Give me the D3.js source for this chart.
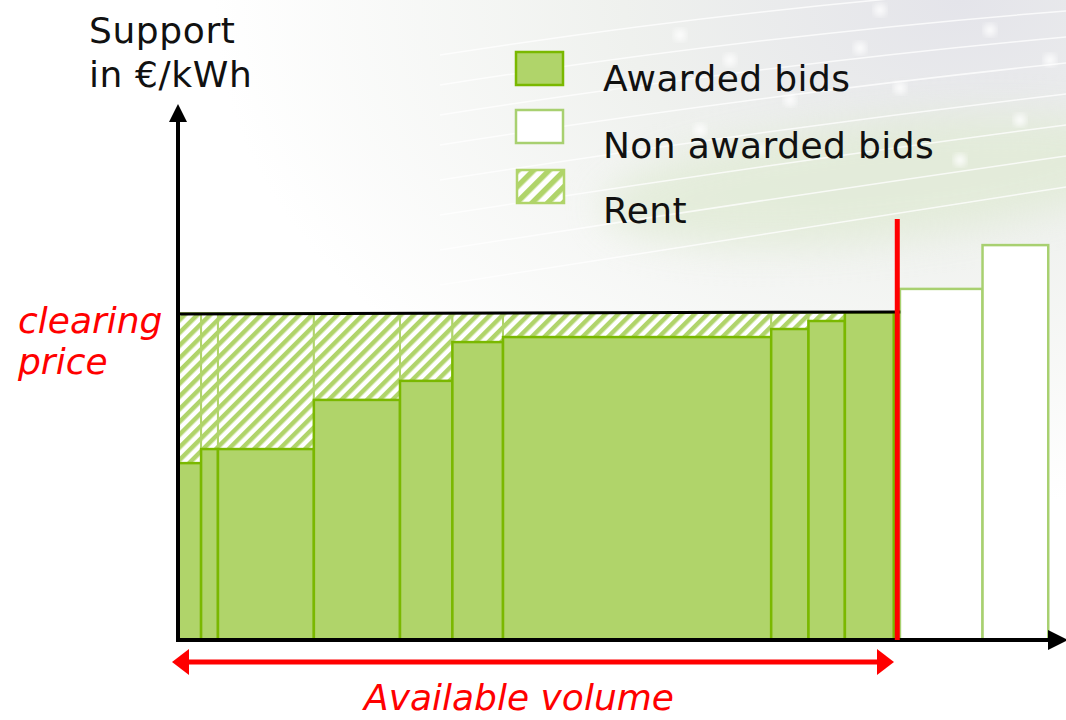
<!DOCTYPE html>
<html>
<head>
<meta charset="utf-8">
<script src="https://cdn.jsdelivr.net/npm/d3@7"></script>
<style>
  body { margin: 0; background: #fff; }
  svg { display: block; }
  text { font-family: "DejaVu Sans", Verdana, sans-serif; }
</style>
</head>
<body>
<div id="chart"></div>
<script>
// bid volumes (arbitrary units) and bid prices
var awardedVolumes = [2.6, 1.9, 10.8, 9.7, 5.9, 5.7, 30.2, 4.2, 4.1, 5.5];
var awardedPrices  = [5.29, 5.71, 5.71, 7.18, 7.75, 8.91, 9.06, 9.30, 9.54, 9.80];
var nonAwardedStart = 81.3;
var nonAwardedVolumes = [9.3, 7.4];
var nonAwardedPrices  = [10.5, 11.81];
var clearingPrice = 9.78;
var availableVolume = 81.0;
var legendLabels = ["Awarded bids", "Non awarded bids", "Rent"];

const width = 1066, height = 720;
const x0 = 178, y0 = 640;
const fontSize = 36;

const svg = d3.select("#chart").append("svg")
    .attr("width", width).attr("height", height);

const defs = svg.append("defs");

// background: grey glow top right with a greenish band
const grad = defs.append("radialGradient").attr("id", "bg")
    .attr("cx", "0.9").attr("cy", "0.0").attr("r", "0.7");
grad.append("stop").attr("offset", "0").attr("stop-color", "#e4e4ea");
grad.append("stop").attr("offset", "0.45").attr("stop-color", "#eff1ee");
grad.append("stop").attr("offset", "1").attr("stop-color", "#ffffff");
svg.append("rect").attr("width", width).attr("height", height).attr("fill", "url(#bg)");

const blur = defs.append("filter").attr("id", "soft").attr("x", "-50%").attr("y", "-50%").attr("width", "200%").attr("height", "200%");
blur.append("feGaussianBlur").attr("stdDeviation", 18);
svg.append("ellipse").attr("cx", 880).attr("cy", 180).attr("rx", 280).attr("ry", 60)
    .attr("transform", "rotate(-6 880 180)")
    .attr("fill", "#e1ebd6").attr("opacity", 0.8).attr("filter", "url(#soft)");

// white swooshes
const swooshes = [15, 45, 75, 105, 140, 175, 210, 245];
swooshes.forEach(function(s, i) {
  svg.append("path")
    .attr("d", "M 440 " + (s + 40) + " Q 760 " + (s - 10) + " 1066 " + (s - 30 - i * 4))
    .attr("fill", "none").attr("stroke", "#ffffff").attr("stroke-opacity", 0.75).attr("stroke-width", 1.5);
});
const sparkleGlow = defs.append("filter").attr("id", "spark");
sparkleGlow.append("feGaussianBlur").attr("stdDeviation", 3);
[[680, 35], [730, 60], [860, 48], [990, 30], [790, 100], [900, 88], [1020, 120], [700, 130], [960, 160], [1050, 60], [880, 10], [760, 150]]
  .forEach(function(p) {
    svg.append("circle").attr("cx", p[0]).attr("cy", p[1]).attr("r", 6)
      .attr("fill", "#fff").attr("opacity", 0.85).attr("filter", "url(#spark)");
  });

// hatch patterns
function makeHatch(id, size) {
  const p = defs.append("pattern").attr("id", id)
      .attr("patternUnits", "userSpaceOnUse")
      .attr("width", size).attr("height", size)
      .attr("patternTransform", "rotate(45)");
  p.append("rect").attr("width", size).attr("height", size).attr("fill", "#fff");
  p.append("rect").attr("width", size / 2).attr("height", size).attr("fill", "#b0d46a");
}
makeHatch("hatch", 9);
makeHatch("hatchLegend", 11);

const xScale = d3.scaleLinear().domain([0, 100]).range([x0, x0 + 888]);
const yScale = d3.scaleLinear().domain([0, 16]).range([y0, 105]);

// build bid tables
let acc = 0;
const awarded = awardedVolumes.map(function(v, i) {
  const d = { start: acc, end: acc + v, price: awardedPrices[i] };
  acc += v;
  return d;
});
acc = nonAwardedStart;
const nonAwarded = nonAwardedVolumes.map(function(v, i) {
  const d = { start: acc, end: acc + v, price: nonAwardedPrices[i] };
  acc += v;
  return d;
});

// rent areas
svg.append("g").selectAll("rect").data(awarded).join("rect")
    .attr("x", d => xScale(d.start))
    .attr("y", yScale(clearingPrice))
    .attr("width", d => xScale(d.end) - xScale(d.start))
    .attr("height", d => Math.max(0, yScale(d.price) - yScale(clearingPrice)))
    .attr("fill", "url(#hatch)")
    .attr("stroke", "#b0d46a").attr("stroke-width", 2);

// awarded bids
svg.append("g").selectAll("rect").data(awarded).join("rect")
    .attr("x", d => xScale(d.start))
    .attr("y", d => yScale(d.price))
    .attr("width", d => xScale(d.end) - xScale(d.start))
    .attr("height", d => y0 - yScale(d.price))
    .attr("fill", "#b0d46a")
    .attr("stroke", "#7ab800").attr("stroke-width", 2.5);

// non awarded bids
svg.append("g").selectAll("rect").data(nonAwarded).join("rect")
    .attr("x", d => xScale(d.start))
    .attr("y", d => yScale(d.price))
    .attr("width", d => xScale(d.end) - xScale(d.start))
    .attr("height", d => y0 - yScale(d.price))
    .attr("fill", "#fff")
    .attr("stroke", "#a8d070").attr("stroke-width", 2.5);

// clearing price line
svg.append("line")
    .attr("x1", x0).attr("x2", xScale(availableVolume) + 3)
    .attr("y1", yScale(clearingPrice) + 1).attr("y2", yScale(clearingPrice) - 1)
    .attr("stroke", "#000").attr("stroke-width", 3);

// axes with arrow heads
svg.append("line").attr("x1", x0).attr("x2", x0).attr("y1", y0 + 2).attr("y2", 118)
    .attr("stroke", "#000").attr("stroke-width", 4);
svg.append("path").attr("d", `M ${x0 - 9} 122 L ${x0} 104 L ${x0 + 9} 122 Z`).attr("fill", "#000");
svg.append("line").attr("x1", x0 - 2).attr("x2", 1052).attr("y1", y0).attr("y2", y0)
    .attr("stroke", "#000").attr("stroke-width", 4);
svg.append("path").attr("d", `M 1048 ${y0 - 10} L 1068 ${y0} L 1048 ${y0 + 10} Z`).attr("fill", "#000");

// available volume cut
svg.append("line")
    .attr("x1", xScale(availableVolume)).attr("x2", xScale(availableVolume))
    .attr("y1", 219).attr("y2", y0)
    .attr("stroke", "#ff0000").attr("stroke-width", 5);

// available volume arrow
const ay = 662, ax1 = 172, ax2 = 894;
svg.append("line").attr("x1", ax1 + 12).attr("x2", ax2 - 12).attr("y1", ay).attr("y2", ay)
    .attr("stroke", "#ff0000").attr("stroke-width", 5);
svg.append("path").attr("d", `M ${ax1} ${ay} L ${ax1 + 17} ${ay - 13} L ${ax1 + 17} ${ay + 13} Z`).attr("fill", "#ff0000");
svg.append("path").attr("d", `M ${ax2} ${ay} L ${ax2 - 17} ${ay - 13} L ${ax2 - 17} ${ay + 13} Z`).attr("fill", "#ff0000");

svg.append("text").attr("x", 519).attr("y", 710).attr("text-anchor", "middle")
    .attr("font-size", fontSize).attr("font-style", "italic").attr("fill", "#ff0000")
    .text("Available volume");

// left labels
const yl = svg.append("text").attr("font-size", fontSize).attr("fill", "#111")
    .attr("letter-spacing", 0.6);
yl.append("tspan").attr("x", 89).attr("y", 43).text("Support");
yl.append("tspan").attr("x", 89).attr("y", 87).text("in €/kWh");

const cl = svg.append("text").attr("font-size", fontSize).attr("font-style", "italic").attr("fill", "#ff0000");
cl.append("tspan").attr("x", 18).attr("y", 333).text("clearing");
cl.append("tspan").attr("x", 18).attr("y", 374).text("price");

// legend
const legendStyles = [
  { fill: "#b0d46a", stroke: "#7ab800" },
  { fill: "#ffffff", stroke: "#a8d070" },
  { fill: "url(#hatchLegend)", stroke: "#b0d46a" }
];
const legendY = [52, 110, 170];
const legendTextY = [91, 158, 223];
const lg = svg.append("g");
legendLabels.forEach(function(lbl, i) {
  lg.append("rect").attr("x", 516 + (i === 2 ? 1 : 0)).attr("y", legendY[i]).attr("width", 47).attr("height", 33)
    .attr("fill", legendStyles[i].fill).attr("stroke", legendStyles[i].stroke).attr("stroke-width", 2.5);
  lg.append("text").attr("x", 603).attr("y", legendTextY[i]).attr("font-size", fontSize)
    .attr("letter-spacing", 0.4).attr("fill", "#111").text(lbl);
});
</script>
</body>
</html>
